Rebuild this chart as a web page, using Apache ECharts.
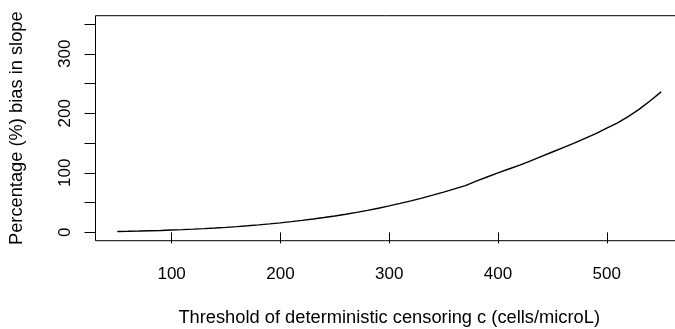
<!DOCTYPE html>
<html>
<head>
<meta charset="utf-8">
<script src="https://cdn.jsdelivr.net/npm/echarts@6/dist/echarts.min.js"></script>
<style>
  html, body { margin: 0; padding: 0; background: #fff; }
  #chart { width: 675px; height: 329px; }
</style>
</head>
<body>
<div id="chart"></div>
<script>
// Censoring threshold c (cells/microL)
const thresholds = [
  50, 60, 70, 80, 90, 100, 110, 120, 130, 140,
  150, 160, 170, 180, 190, 200, 210, 220, 230, 240,
  250, 260, 270, 280, 290, 300, 310, 320, 330, 340,
  350, 360, 370, 380, 390, 400, 410, 420, 430, 440,
  450, 460, 470, 480, 490, 500, 510, 520, 530, 540, 550
];
// Percentage bias in the estimated slope
const slopeBias = [
  1.5, 1.8, 2.2, 2.7, 3.2, 3.9, 4.6, 5.4, 6.3, 7.3,
  8.4, 9.6, 11.0, 12.5, 14.2, 16.0, 18.0, 20.1, 22.4, 24.9,
  27.6, 30.5, 33.6, 36.9, 40.5, 44.5, 48.6, 53.0, 57.6, 62.5,
  67.5, 73.0, 78.5, 86.0, 93.0, 100.0, 106.5, 113.0, 120.0, 127.5,
  135.0, 142.5, 150.0, 158.0, 166.0, 175.0, 184.0, 195.0, 207.0, 221.0, 236.0
];
const xTicks = [100, 200, 300, 400, 500];
const yTicks = [0, 50, 100, 150, 200, 250, 300, 350];
const yLabels = [0, 100, 200, 300];

const xTitle = 'Threshold of deterministic censoring c (cells/microL)';
const yTitle = 'Percentage (%) bias in slope';

const font = 'Liberation Sans, Arial, Helvetica, sans-serif';
const chart = echarts.init(document.getElementById('chart'), null, { renderer: 'canvas' });

chart.setOption({
  animation: false,
  backgroundColor: '#fff',
  grid: {
    left: 95.5, top: 15.7, width: 587.4, height: 225,
    outerBoundsMode: 'none',
    containLabel: false,
    show: true, borderColor: '#000', borderWidth: 1, backgroundColor: 'transparent'
  },
  xAxis: {
    type: 'value', min: 30, max: 570,
    axisLine: { show: false },
    splitLine: { show: false },
    axisTick: { show: true, customValues: xTicks, length: 11, inside: false,
                lineStyle: { color: '#000', width: 1 } },
    axisLabel: { customValues: xTicks, color: '#000', fontSize: 17, fontFamily: font, margin: 25 },
    name: xTitle, nameLocation: 'middle', nameGap: 68,
    nameTextStyle: { color: '#000', fontSize: 18.3, fontFamily: font }
  },
  yAxis: {
    type: 'value', min: -14, max: 364,
    axisLine: { show: false },
    splitLine: { show: false },
    axisTick: { show: true, customValues: yTicks, length: 11, inside: false,
                lineStyle: { color: '#000', width: 1 } },
    axisLabel: { customValues: yLabels, rotate: 90, color: '#000', fontSize: 17,
                 fontFamily: font, margin: 22 },
    name: yTitle, nameLocation: 'middle', nameGap: 70, nameRotate: 90,
    nameTextStyle: { color: '#000', fontSize: 18.3, fontFamily: font }
  },
  series: [{
    type: 'line',
    data: thresholds.map((c, i) => [c, slopeBias[i]]),
    showSymbol: false,
    smooth: false,
    lineStyle: { color: '#000', width: 1.4 },
    clip: false
  }]
});
</script>
</body>
</html>
